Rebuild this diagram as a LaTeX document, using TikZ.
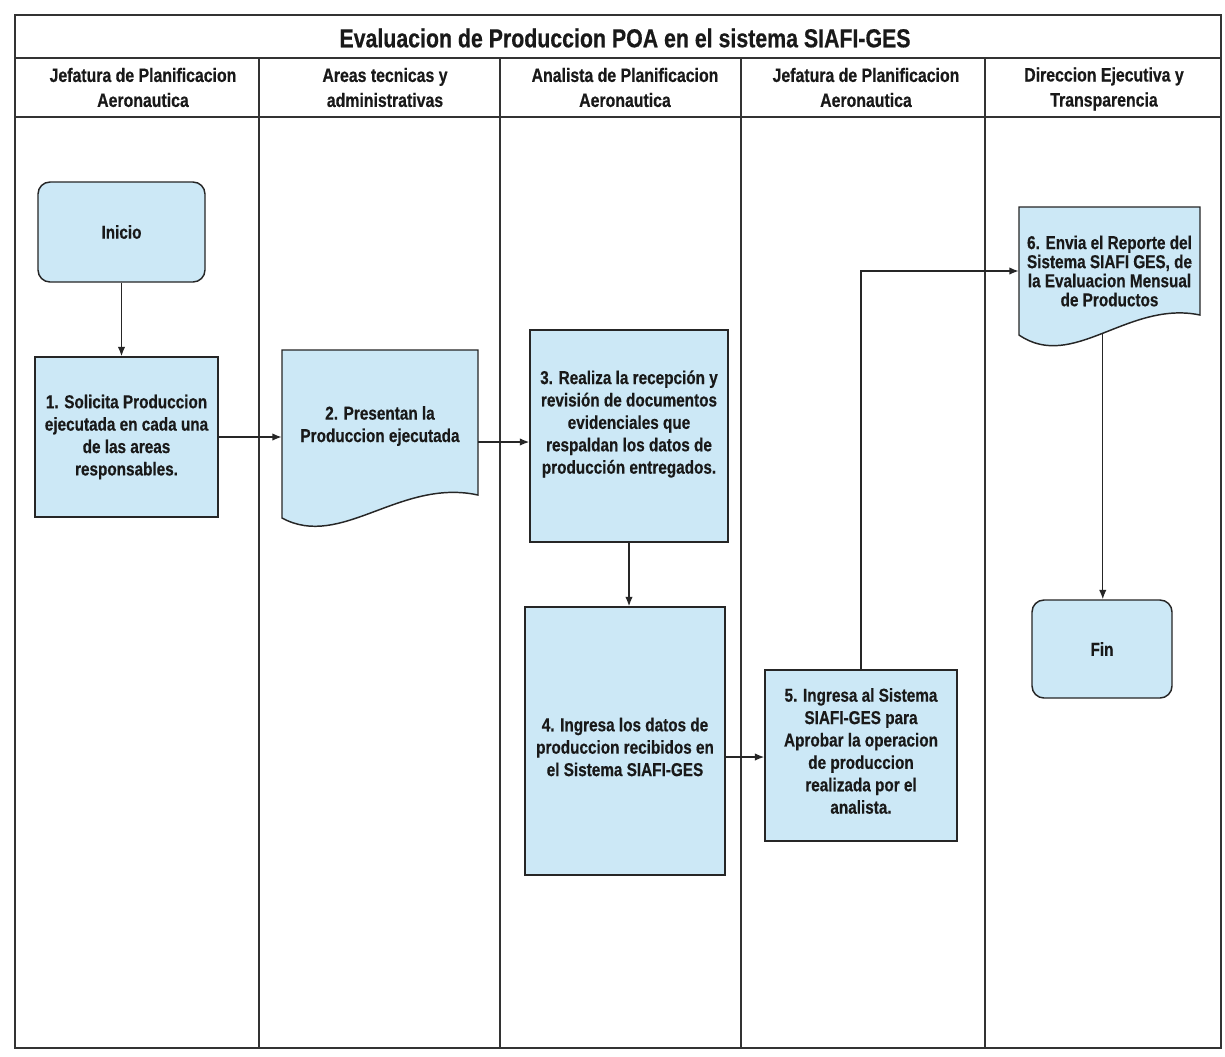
\documentclass[tikz,border=0pt]{standalone}
\usepackage{fontspec}
\setmainfont{Liberation Sans}[FakeStretch=0.82,FakeBold=0.5]
\usetikzlibrary{arrows.meta}
\definecolor{boxfill}{RGB}{204,232,246}
\tikzset{
  lane/.style={draw=black!80, line width=0.8pt},
  outerframe/.style={draw=black!80, line width=1.1pt},
  boxbase/.style={draw=black!85, line width=1.1pt, fill=boxfill},
  proc/.style={boxbase, rectangle, inner sep=0pt},
  term/.style={boxbase, rectangle, rounded corners=9pt, inner sep=0pt},
  bodytext/.style={font=\bfseries\fontsize{14}{16.8}\selectfont, align=center, text=black!90},
  tighttext/.style={font=\bfseries\fontsize{14}{14.3}\selectfont, align=center, text=black!90},
  hdr/.style={font=\bfseries\fontsize{14.5}{18.75}\selectfont, align=center, inner sep=0pt, text=black!90},
  ttl/.style={font=\bfseries\fontsize{19.5}{22}\selectfont, inner sep=0pt, text=black!90},
  conn/.style={draw=black!85, line width=1pt, -{Latex[length=7pt,width=5.5pt]}},
}
\begin{document}
\begin{tikzpicture}[x=0.75pt,y=-0.75pt]
\useasboundingbox (0,0) rectangle (1225,1057);
\fill[white] (0,0) rectangle (1225,1057);

% frame and lanes
\draw[outerframe] (15,15) rectangle (1221,1048);
\draw[lane] (15,58) -- (1221,58);
\draw[lane] (15,117) -- (1221,117);
\draw[lane] (259,58) -- (259,1048);
\draw[lane] (500,58) -- (500,1048);
\draw[lane] (741,58) -- (741,1048);
\draw[lane] (985,58) -- (985,1048);

% title and headers
\node[ttl] (title) at (625,38) {Evaluacion de Produccion POA en el sistema SIAFI-GES};
\node[hdr] (h1) at (143,87.5) {Jefatura de Planificacion\\Aeronautica};
\node[hdr] (h2) at (385,87.5) {Areas tecnicas y\\administrativas};
\node[hdr] (h3) at (625,87.5) {Analista de Planificacion\\Aeronautica};
\node[hdr] (h4) at (866,87.5) {Jefatura de Planificacion\\Aeronautica};
\node[hdr] (h5) at (1104,89) {Direccion Ejecutiva y\\Transparencia};

% Inicio
\node[term, bodytext, minimum width=125.25pt, minimum height=75pt] (ini) at (121.5,232) {Inicio};

% step 1
\node[proc, bodytext, minimum width=137.25pt, minimum height=120pt] (s1) at (126.5,437)
  {1. Solicita Produccion\\ejecutada en cada una\\de las areas\\responsables.};

% step 2 (document)
\filldraw[boxbase] (282,350) -- (478,350) -- (478,495)
  .. controls (400,478) and (341,550) .. (282,518) -- cycle;
\node[bodytext, inner sep=0pt, minimum width=147pt, minimum height=117pt] (s2) at (380,426)
  {2. Presentan la\\Produccion ejecutada};

% step 3
\node[proc, minimum width=148.5pt, minimum height=159pt] (s3) at (629,436) {};
\node[bodytext, inner sep=0pt] (s3t) at (629,424)
  {3. Realiza la recepción y\\revisión de documentos\\evidenciales que\\respaldan los datos de\\producción entregados.};

% step 4
\node[proc, minimum width=150pt, minimum height=201pt] (s4) at (625,741) {};
\node[bodytext, inner sep=0pt] (s4t) at (625,747)
  {4. Ingresa los datos de\\produccion recibidos en\\el Sistema SIAFI-GES};

% step 5
\node[proc, minimum width=144pt, minimum height=128.25pt] (s5) at (861,755.5) {};
\node[bodytext, inner sep=0pt] (s5t) at (861,751)
  {5. Ingresa al Sistema\\SIAFI-GES para\\Aprobar la operacion\\de produccion\\realizada por el\\analista.};

% step 6 (document)
\filldraw[boxbase] (1019,207) -- (1200,207) -- (1200,315)
  .. controls (1128,300) and (1073,372) .. coordinate[pos=0.5] (s6w) (1019,335) -- cycle;
\node[tighttext, inner sep=0pt, minimum width=135.75pt] (s6) at (1109.5,271)
  {6. Envia el Reporte del\\Sistema SIAFI GES, de\\la Evaluacion Mensual\\de Productos};

% Fin
\node[term, bodytext, minimum width=105pt, minimum height=73.5pt] (fin) at (1102,649) {Fin};

% connectors
\draw[conn] (ini.south) -- (ini.south |- s1.north);
\draw[conn] (s1.east) -- (s1.east -| s2.west);
\draw[conn] ([yshift=-12pt]s2.east) -- ([yshift=-12pt]s2.east -| s3.west);
\draw[conn] (s3.south) -- (s3.south |- s4.north);
\draw[conn] ([yshift=-12pt]s4.east) -- ([yshift=-12pt]s4.east -| s5.west);
\draw[conn] (s5.north) |- (s6.west);
\draw[conn] (s6w) -- (s6w |- fin.north);
\end{tikzpicture}
\end{document}
